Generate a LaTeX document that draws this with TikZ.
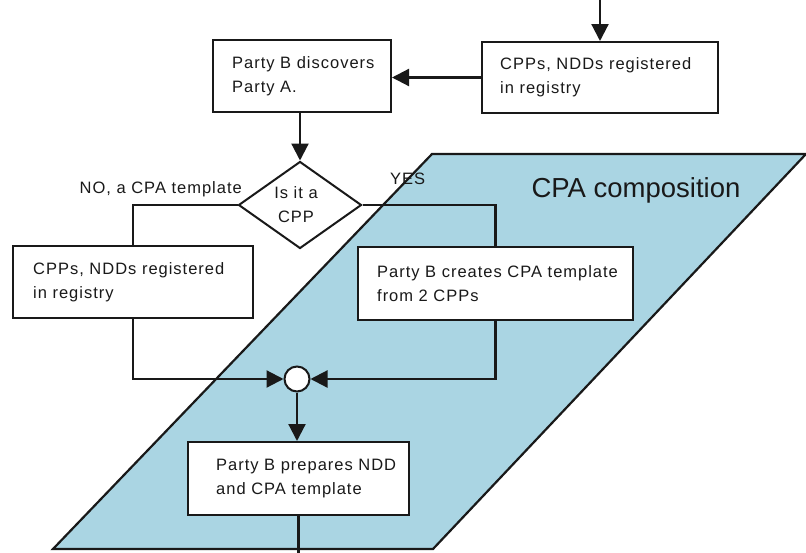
\documentclass[tikz,border=0pt]{standalone}
\usepackage{fontspec}
\setmainfont{Liberation Sans}[LetterSpace=6]
\usetikzlibrary{arrows.meta,shapes.geometric}
\definecolor{cpablue}{RGB}{170,213,227}
\definecolor{inkc}{RGB}{25,25,25}
\newcommand\bxfont{\fontsize{16.5}{24}\selectfont}
\tikzset{
  boxnode/.style={draw=inkc, line width=2pt, fill=white, inner sep=0pt},
  txtnode/.style={anchor=west, align=left, inner sep=0pt, font=\bxfont, text=inkc},
  conn/.style={draw=inkc, line width=2.2pt},
  arr/.style={conn, -{Triangle[length=17pt,width=17pt]}},
}
\begin{document}
\begin{tikzpicture}[x=1pt,y=-1pt]
\fill[white] (0,0) rectangle (806,552);
\useasboundingbox (0,0) rectangle (806,552);
\clip (0,0) rectangle (806,552);
% parallelogram
\draw[fill=cpablue, draw=inkc, line width=2.2pt] (53,549) -- (433,549) -- (806,154) -- (432,154) -- cycle;
\node[anchor=base, inner sep=0pt, text=inkc, font=\fontsize{27.5}{30}\selectfont\addfontfeature{LetterSpace=0}] (cpalbl) at (636,197) {CPA composition};
% boxes
\node[boxnode, minimum width=178, minimum height=72] (disc) at (302,76) {};
\node[txtnode] (disct) at ([xshift=20pt]disc.west) {Party B discovers\\Party A.};
\node[boxnode, minimum width=236, minimum height=71] (reg) at (600,77.5) {};
\node[txtnode] (regt) at ([xshift=19pt]reg.west) {CPPs, NDDs registered\\in registry};
\node[draw=inkc, line width=2pt, fill=white, shape=diamond, minimum width=123, minimum height=87, inner sep=0pt] (dia) at (300,205) {};
\node[align=center, inner sep=0pt, font=\bxfont, text=inkc] (diat) at (296,205) {Is it a\\CPP};
\node[boxnode, minimum width=240, minimum height=72] (left) at (133,282) {};
\node[txtnode] (leftt) at ([xshift=21pt]left.west) {CPPs, NDDs registered\\in registry};
\node[boxnode, minimum width=275, minimum height=73] (cre) at (495.5,283.5) {};
\node[txtnode] (cret) at ([xshift=20pt]cre.west) {Party B creates CPA template\\from 2 CPPs};
\node[draw=inkc, line width=2pt, fill=white, circle, minimum size=25, inner sep=0pt] (circ) at (297,379) {};
\node[boxnode, minimum width=221, minimum height=73] (bot) at (298.5,478.5) {};
\node[txtnode] (bott) at ([xshift=29pt]bot.west) {Party B prepares NDD\\and CPA template};
% labels
\node[anchor=base east, inner sep=0pt, font=\bxfont, text=inkc] (nolbl) at (242,193) {NO, a CPA template};
\node[anchor=base west, inner sep=0pt, font=\bxfont, text=inkc] (yeslbl) at (390,184) {YES};
% connectors
\coordinate (topin) at (600,-5);
\coordinate (botout) at (298.5,570);
\draw[arr] (topin) -- (reg.north);
\draw[arr] (reg.west) -- (reg.west -| disc.east);
\draw[arr] (dia.north |- disc.south) -- (dia.north);
\draw[conn] (dia.west) -| (left.north);
\draw[conn] (dia.east) -| (cre.north);
\draw[arr] (left.south) |- (circ.west);
\draw[arr] (cre.south) |- (circ.east);
\draw[arr] (circ.south) -- (circ.south |- bot.north);
\draw[arr] (bot.south) -- (botout);
\end{tikzpicture}
\end{document}
